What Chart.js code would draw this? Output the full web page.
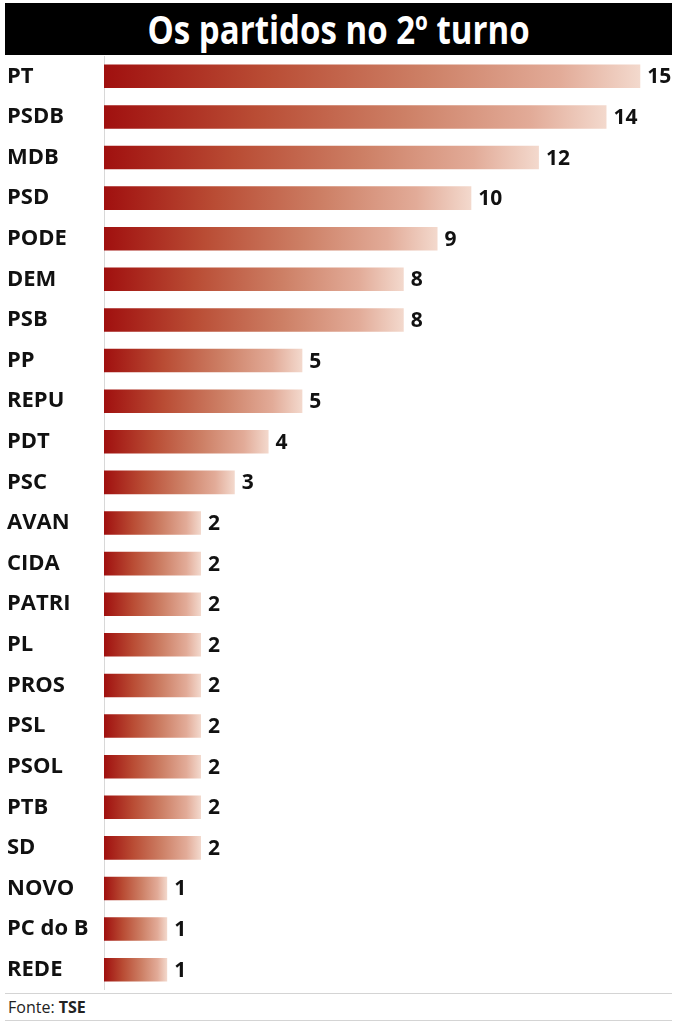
<!DOCTYPE html>
<html lang="pt">
<head>
<meta charset="utf-8">
<script src="https://cdn.jsdelivr.net/npm/chart.js@4.4.1/dist/chart.umd.min.js"></script>
<style>
  body { margin: 0; background: #fff; width: 679px; height: 1024px; position: relative; overflow: hidden; }
  #title {
    position: absolute; top: 3px; left: 5px; width: 667px; height: 52px;
    background: #000; color: #fff; text-align: center;
    font: bold 39px "Open Sans", sans-serif;
    line-height: 52px; white-space: nowrap;
  }
  #title span { display: inline-block; transform-origin: center; }
  #wrap { position: absolute; top: 56px; left: 0; width: 679px; height: 934px; }
  #footer {
    position: absolute; top: 993px; left: 5px; width: 667px; height: 28px;
    border-top: 1px solid #d4d4d4; border-bottom: 1px solid #d4d4d4;
    font: 16px "Open Sans", sans-serif; color: #222; line-height: 27px;
    padding-left: 3px; box-sizing: border-box;
  }
</style>
</head>
<body>
<div id="title"><span id="titleText">Os partidos no 2º turno</span></div>
<div id="wrap"><canvas id="graph"></canvas></div>
<div id="footer">Fonte: <b>TSE</b></div>
<script>
const partidos = ["PT", "PSDB", "MDB", "PSD", "PODE", "DEM", "PSB", "PP", "REPU", "PDT", "PSC",
  "AVAN", "CIDA", "PATRI", "PL", "PROS", "PSL", "PSOL", "PTB", "SD", "NOVO", "PC do B", "REDE"];
const cidades = [15, 14, 12, 10, 9, 8, 8, 5, 5, 4, 3, 2, 2, 2, 2, 2, 2, 2, 2, 2, 1, 1, 1];

// the bars in the original start a bit before zero
const xMin = -0.87;
const xMax = 15.85;

// the title font is condensed in the original
const titleText = document.getElementById("titleText");
titleText.style.transform = "scaleX(" + (382 / titleText.offsetWidth) + ")";

const labelFont = { family: "'Open Sans', sans-serif", size: 22, weight: "bold" };

const getGradient = (c) => {
  const chart = c.chart;
  const xs = chart.scales.x;
  if (!chart.chartArea || !xs) return "#b03020";
  const x0 = xs.getPixelForValue(xMin);
  const x1 = xs.getPixelForValue(c.raw);
  const g = chart.ctx.createLinearGradient(x0, 0, x1, 0);
  g.addColorStop(0, "#a0100f");
  g.addColorStop(0.3, "#b94c34");
  g.addColorStop(0.6, "#cd8066");
  g.addColorStop(0.85, "#e2ab98");
  g.addColorStop(1, "#f3d9cd");
  return g;
};

const valueLabels = {
  id: "valueLabels",
  afterDatasetsDraw(chart) {
    const ctx = chart.ctx;
    const meta = chart.getDatasetMeta(0);
    ctx.save();
    ctx.font = "bold 21px 'Open Sans', sans-serif";
    ctx.fillStyle = "#111";
    ctx.textBaseline = "middle";
    meta.data.forEach((bar, i) => {
      ctx.fillText(cidades[i], bar.x + 7, bar.y + 1);
    });
    ctx.restore();
  },
};

const chart = new Chart(document.getElementById("graph"), {
  type: "bar",
  data: {
    labels: partidos,
    datasets: [
      {
        data: cidades,
        base: xMin,
        backgroundColor: getGradient,
        barPercentage: 0.58,
        categoryPercentage: 1,
      },
    ],
  },
  options: {
    indexAxis: "y",
    responsive: true,
    maintainAspectRatio: false,
    animation: false,
    layout: { padding: { left: 7, right: 10, top: 0, bottom: 0 } },
    plugins: { legend: { display: false }, tooltip: { enabled: false } },
    scales: {
      x: { display: false, min: xMin, max: xMax },
      y: {
        grid: { display: false },
        border: { display: true, color: "#d8d8d8", width: 1 },
        ticks: { crossAlign: "far", color: "#111", font: labelFont, padding: 4 },
        afterFit: (scale) => {
          scale.width = 97;
          scale.paddingTop = 0;
          scale.paddingBottom = 0;
        },
      },
    },
  },
  plugins: [valueLabels],
});
</script>
</body>
</html>
